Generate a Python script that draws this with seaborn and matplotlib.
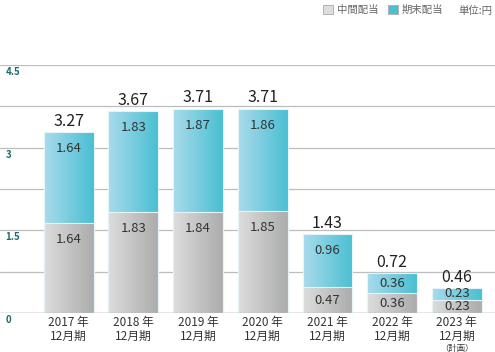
import matplotlib
matplotlib.use("Agg")
import matplotlib.pyplot as plt
import numpy as np
import pandas as pd
import seaborn as sns
from matplotlib.colors import LinearSegmentedColormap
from matplotlib.patches import Patch

# data
periods = ["2017", "2018", "2019", "2020", "2021", "2022", "2023"]
interim = [1.64, 1.83, 1.84, 1.85, 0.47, 0.36, 0.23]
year_end = [1.64, 1.83, 1.87, 1.86, 0.96, 0.36, 0.23]
totals = [3.27, 3.67, 3.71, 3.71, 1.43, 0.72, 0.46]
yticks = [0, 1.5, 3, 4.5]

sns.set_theme(style="white")
plt.rcParams["font.family"] = ["Noto Sans CJK JP", "DejaVu Sans"]

df = pd.DataFrame({"period": periods, "interim": interim, "year_end": year_end})
df["stack"] = df["interim"] + df["year_end"]

fig = plt.figure(figsize=(4.95, 3.52), dpi=100)
ax = fig.add_axes([0, 39 / 352, 1, 248 / 352])

blue_l, blue_r = "#a8dbec", "#4bbfd2"
gray_l, gray_r = "#dcdddd", "#acacac"

sns.barplot(data=df, x="period", y="stack", color=blue_r, width=0.77,
            saturation=1, ax=ax, zorder=3)
sns.barplot(data=df, x="period", y="interim", color=gray_r, width=0.77,
            saturation=1, ax=ax, zorder=3)

ax.set_xlim(-1.06, 6.59)
ax.set_ylim(0, 4.5)

# gradient fill for each bar
cm_blue = LinearSegmentedColormap.from_list("b", [blue_l, blue_r])
cm_gray = LinearSegmentedColormap.from_list("g", [gray_l, gray_r])
grad = np.linspace(0, 1, 64).reshape(1, -1)
n = len(periods)
for i, p in enumerate(list(ax.patches)):
    cmap = cm_blue if i < n else cm_gray
    x0, y0 = p.get_x(), p.get_y()
    w, h = p.get_width(), p.get_height()
    im = ax.imshow(grad, cmap=cmap, aspect="auto", extent=[x0, x0 + w, y0, y0 + h],
                   zorder=3.5, interpolation="bilinear")
    im.set_clip_path(p)
    p.set_facecolor("none")
    p.set_edgecolor("#e6f4f8")
    p.set_linewidth(0.8)
    p.set_zorder(4)

# grid lines
for g in np.arange(0, 4.51, 0.75):
    ax.axhline(g, color="#bdbdbd", lw=0.9, zorder=1)
ax.axhline(0, color="#aaaaaa", lw=1.0, zorder=5)

for s in ax.spines.values():
    s.set_visible(False)
ax.set_xticks([])
ax.set_yticks([])
ax.set_xlabel("")
ax.set_ylabel("")

# y labels inside left
for v in yticks:
    ax.annotate(f"{v:g}", xy=(0, v), xycoords=("axes fraction", "data"),
                xytext=(4, -5), textcoords="offset points", ha="left", va="center",
                fontsize=7, fontweight="bold", color="#1e6b6b")

off = 0.3
for i in range(n):
    top_g = interim[i]
    top_b = interim[i] + year_end[i]
    yg = max(top_g - off, top_g / 2)
    yb = max(top_b - off, top_g + year_end[i] / 2)
    ax.text(i, yg, f"{interim[i]:.2f}", ha="center", va="center",
            fontsize=9.5, color="#333333", zorder=6)
    ax.text(i, yb, f"{year_end[i]:.2f}", ha="center", va="center",
            fontsize=9.5, color="#333333", zorder=6)
    ax.annotate(f"{totals[i]:.2f}", xy=(i, top_b), xytext=(0, 1.5),
                textcoords="offset points", ha="center", va="bottom",
                fontsize=11.5, color="#222222", zorder=6)
    ax.annotate(f"{periods[i]} 年\n12月期", xy=(i, 0), xytext=(0, -2.5),
                textcoords="offset points", ha="center", va="top",
                fontsize=8.5, color="#333333", linespacing=1.05)
ax.annotate("（計画）", xy=(n - 1, 0), xytext=(0, -22),
            textcoords="offset points", ha="center", va="top",
            fontsize=6, color="#333333")

handles = [Patch(facecolor=gray_l, edgecolor="#aaaaaa", lw=0.6, label="中間配当"),
           Patch(facecolor=blue_r, edgecolor="#aaaaaa", lw=0.6, label="期末配当")]
fig.legend(handles=handles, loc="upper right", bbox_to_anchor=(0.915, 1.012), ncol=2,
           frameon=False, fontsize=7.5, handlelength=1.0, handleheight=1.0,
           handletextpad=0.35, columnspacing=0.9, labelcolor="#666666")
fig.text(0.995, 0.984, "単位:円", ha="right", va="top", fontsize=7.5, color="#666666")

fig.savefig("out.png", dpi=100)
